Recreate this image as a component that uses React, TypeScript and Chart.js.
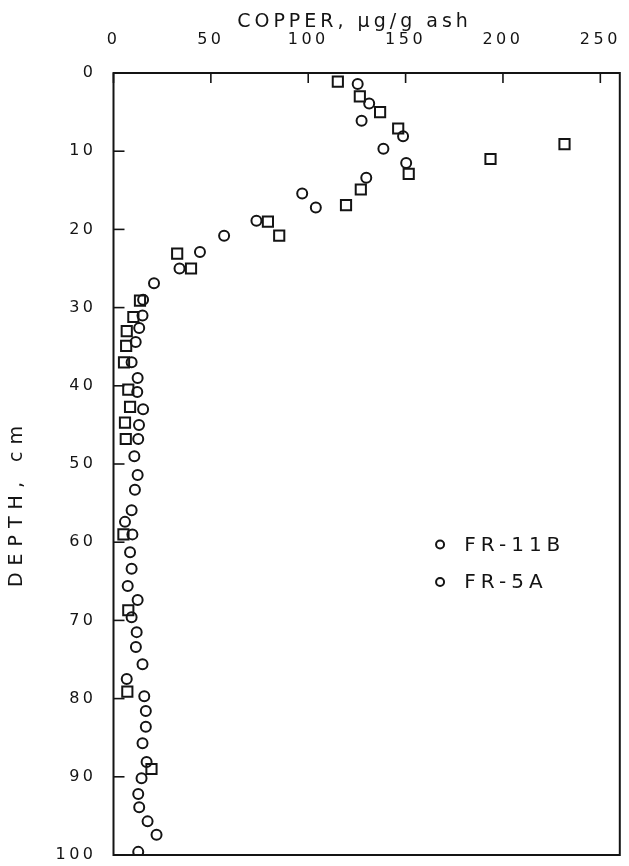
import { useEffect, useRef } from 'react';
import { Chart, registerables } from 'chart.js';

Chart.register(...registerables);

// ---- data ----
const seriesNames = ['FR-11B', 'FR-5A'];

const fr11bDepth = [
  1.4, 3.9, 6.1, 8.1, 9.7, 11.5, 13.4, 15.4, 17.2, 18.9, 20.8, 22.9, 25.0, 26.9, 29.0,
  31.0, 32.6, 34.4, 37.0, 39.0, 40.8, 43.0, 45.0, 46.8, 49.0, 51.4, 53.3, 55.9, 57.4,
  59.0, 61.3, 63.4, 65.6, 67.4, 69.6, 71.5, 73.4, 75.6, 77.5, 79.7, 81.6, 83.6, 85.7,
  88.1, 90.2, 92.2, 93.9, 95.7, 97.4, 99.6,
];
const fr11bCopper = [
  125.4, 131.3, 127.4, 148.7, 138.6, 150.3, 129.8, 96.9, 103.9, 73.4, 56.8, 44.4, 33.9, 20.8, 15.2,
  14.9, 13.2, 11.4, 9.3, 12.4, 12.2, 15.2, 13.1, 12.7, 10.7, 12.4, 11.0, 9.3, 5.9,
  9.7, 8.5, 9.3, 7.3, 12.4, 9.3, 11.9, 11.5, 14.9, 6.8, 15.8, 16.6, 16.6, 14.9,
  17.0, 14.4, 12.7, 13.2, 17.5, 22.1, 12.7,
];

const fr5aDepth = [
  1.1, 3.0, 5.0, 7.1, 9.1, 11.0, 12.9, 14.9, 16.9, 19.0, 20.8, 23.1, 25.0, 29.1, 31.2,
  33.0, 34.9, 37.0, 40.5, 42.7, 44.7, 46.8, 59.0, 68.7, 79.1, 89.0,
];
const fr5aCopper = [
  115.2, 126.5, 136.9, 146.2, 231.6, 193.6, 151.6, 127.0, 119.4, 79.3, 85.1, 32.7, 39.8, 13.6, 10.2,
  6.8, 6.5, 5.4, 7.6, 8.5, 5.9, 6.3, 5.1, 7.6, 7.1, 19.5,
];

const copperMin = 0;
const copperMax = 260;
const copperStep = 50;
const depthMin = 0;
const depthMax = 100;
const depthStep = 10;

const xTitle = 'COPPER, μg/g ash';
const yTitle = 'DEPTH, cm';

// ---- styles ----
const INK = '#141414';
const FONT = '"DejaVu Sans", sans-serif';

const toPoints = (xs: number[], ys: number[]) => xs.map((x, i) => ({ x, y: ys[i] }));

const zeroPad = (scale: any) => {
  scale.paddingLeft = 0;
  scale.paddingRight = 0;
  scale.paddingTop = 0;
  scale.paddingBottom = 0;
};

const decorPlugin = {
  id: 'decor',
  beforeDraw(chart: any) {
    const { ctx, width, height } = chart;
    ctx.save();
    ctx.fillStyle = '#ffffff';
    ctx.fillRect(0, 0, width, height);
    ctx.restore();
    ctx.letterSpacing = '3.5px';
  },
  afterDraw(chart: any) {
    const { ctx, chartArea: a, scales } = chart;
    const w = a.right - a.left;
    const h = a.bottom - a.top;
    ctx.save();
    ctx.strokeStyle = INK;
    ctx.fillStyle = INK;
    ctx.lineWidth = 2;
    ctx.strokeRect(a.left, a.top, w, h);

    // inward tick marks
    ctx.lineWidth = 1.6;
    scales.x.ticks.forEach((t: any) => {
      const px = scales.x.getPixelForValue(t.value);
      ctx.beginPath();
      ctx.moveTo(px, a.top);
      ctx.lineTo(px, a.top + 10);
      ctx.stroke();
    });
    scales.y.ticks.forEach((t: any) => {
      const py = scales.y.getPixelForValue(t.value);
      ctx.beginPath();
      ctx.moveTo(a.left, py);
      ctx.lineTo(a.left + 11, py);
      ctx.stroke();
    });

    // axis titles
    ctx.letterSpacing = '4px';
    ctx.font = `19px ${FONT}`;
    ctx.textAlign = 'center';
    ctx.textBaseline = 'middle';
    ctx.fillText(xTitle, a.left + w * 0.476, 22);

    ctx.save();
    ctx.letterSpacing = '7px';
    ctx.font = `19px ${FONT}`;
    ctx.translate(17, a.top + h * 0.55);
    ctx.rotate(-Math.PI / 2);
    ctx.fillText(yTitle, 0, 0);
    ctx.restore();

    // legend inside plot
    ctx.font = `20px ${FONT}`;
    ctx.letterSpacing = '5px';
    ctx.textAlign = 'left';
    chart.data.datasets.forEach((ds: any, i: number) => {
      const ly = a.top + h * (0.603 + i * 0.048);
      const mx = a.left + w * 0.645;
      ctx.lineWidth = 2;
      ctx.beginPath();
      ctx.arc(mx, ly, 4, 0, Math.PI * 2);
      ctx.stroke();
      ctx.fillText(ds.label, a.left + w * 0.693, ly + 1);
    });
    ctx.restore();
  },
};

export default function App() {
  const canvasRef = useRef<HTMLCanvasElement | null>(null);

  useEffect(() => {
    const canvas = canvasRef.current;
    if (!canvas) return;
    const chart = new Chart(canvas, {
      type: 'scatter',
      data: {
        datasets: [
          {
            label: seriesNames[0],
            data: toPoints(fr11bCopper, fr11bDepth),
            pointStyle: 'circle',
            pointRadius: 5,
            pointHoverRadius: 5,
            borderColor: INK,
            backgroundColor: 'rgba(0,0,0,0)',
            pointBorderWidth: 2,
          },
          {
            label: seriesNames[1],
            data: toPoints(fr5aCopper, fr5aDepth),
            pointStyle: 'rect',
            pointRadius: 7.2,
            pointHoverRadius: 7.2,
            borderColor: INK,
            backgroundColor: 'rgba(0,0,0,0)',
            pointBorderWidth: 2,
          },
        ],
      },
      options: {
        responsive: false,
        animation: false,
        events: [],
        layout: { padding: { left: 0, top: 0, right: 2, bottom: 11 } },
        plugins: {
          legend: { display: false },
          tooltip: { enabled: false },
        },
        scales: {
          x: {
            type: 'linear',
            position: 'top',
            min: copperMin,
            max: copperMax,
            grid: { display: false, drawTicks: false },
            border: { display: false },
            ticks: {
              stepSize: copperStep,
              includeBounds: false,
              color: INK,
              padding: 24,
              font: { family: FONT, size: 16 },
              maxRotation: 0,
            },
            afterFit: (scale: any) => {
              scale.height = 73;
              zeroPad(scale);
            },
          },
          y: {
            type: 'linear',
            reverse: true,
            min: depthMin,
            max: depthMax,
            grid: { display: false, drawTicks: false },
            border: { display: false },
            ticks: {
              stepSize: depthStep,
              color: INK,
              padding: 17,
              font: { family: FONT, size: 16 },
            },
            afterFit: (scale: any) => {
              scale.width = 113.5;
              zeroPad(scale);
            },
          },
        },
      },
      plugins: [decorPlugin],
    });
    return () => chart.destroy();
  }, []);

  return (
    <div style={{ position: 'absolute', left: 0, top: 0, width: 629, height: 866, background: '#fff' }}>
      <canvas ref={canvasRef} width={629} height={866} style={{ display: 'block' }} />
    </div>
  );
}
